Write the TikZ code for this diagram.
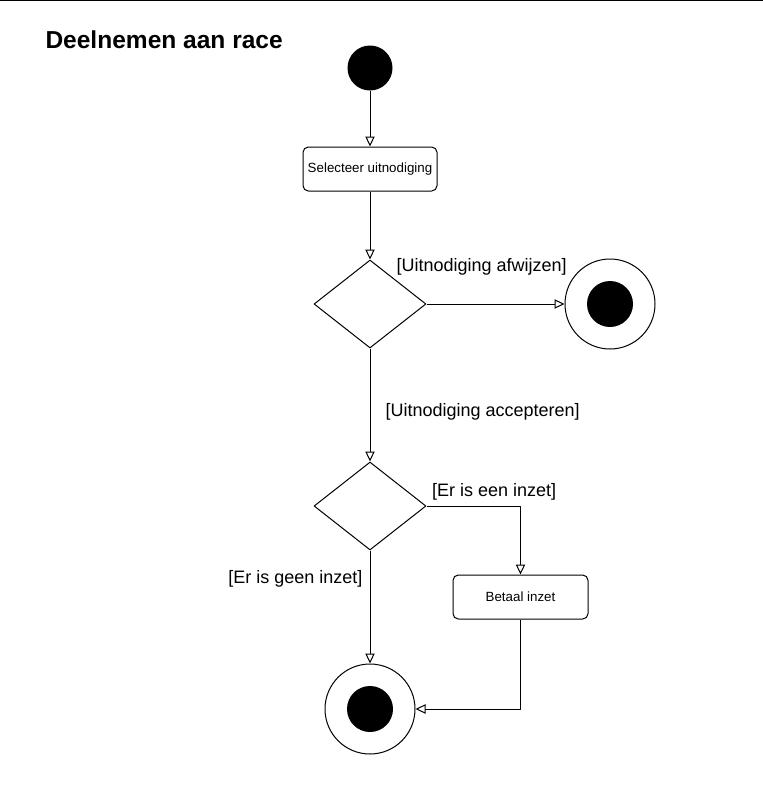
\documentclass[tikz,border=0pt]{standalone}
\usepackage{fontspec}
\setmainfont{Liberation Sans}
\usetikzlibrary{arrows.meta,shapes.geometric}

\begin{document}
\begin{tikzpicture}[x=0.75pt,y=-0.75pt,>={Triangle[open,length=7.5pt,width=7pt]},line width=0.75pt,line join=round,
		font=\fontsize{13.5}{16}\selectfont,
		actie/.style={draw,rounded corners=4pt,minimum width=100.5pt,minimum height=33pt,font=\fontsize{10}{12}\selectfont},
		keuze/.style={draw,diamond,aspect=1.27,minimum width=84pt,minimum height=66pt,inner sep=0pt},
		eind/.style={draw,circle,minimum size=67.5pt,inner sep=0pt,path picture={\fill (path picture bounding box.center) circle (17.25pt);}},
		bewaking/.style={inner sep=0pt}]
	\useasboundingbox (0,0) rectangle (763,793);
	\draw (0,0.5) -- (763,0.5);
	\node[anchor=base west,inner sep=0pt,font=\bfseries\fontsize{18.4}{22}\selectfont] (titel) at (45,48) {Deelnemen aan race};
	\node[circle,fill,minimum size=33.75pt,inner sep=0pt] (S) at (370,68) {};
	\node[actie] (K1) at (370,169) {Selecteer uitnodiging};
	\node[keuze] (D1) at (370,304) {};
	\node[eind] (E1) at (610,304) {};
	\node[keuze] (D2) at (370,506) {};
	\node[actie,minimum width=101.25pt] (K2) at (520.5,597) {Betaal inzet};
	\node[eind] (E2) at (370,709) {};
	\draw[->] (S) -- (K1);
	\draw[->] (K1) -- (D1);
	\draw[->] (D1) -- (E1) node[bewaking,pos=0.4,above=21pt]{[Uitnodiging afwijzen]};
	\draw[->] (D1) -- (D2) node[bewaking,midway,right=11.25pt,yshift=-5pt]{[Uitnodiging accepteren]};
	\draw[->] (D2.east) -| (K2.north) node[bewaking,pos=0.36,above=3.75pt]{[Er is een inzet]};
	\draw[->] (D2) -- (E2) node[bewaking,pos=0.25,left=5.25pt]{[Er is geen inzet]};
	\draw[->] (K2.south) |- (E2.east);
\end{tikzpicture}
\end{document}
